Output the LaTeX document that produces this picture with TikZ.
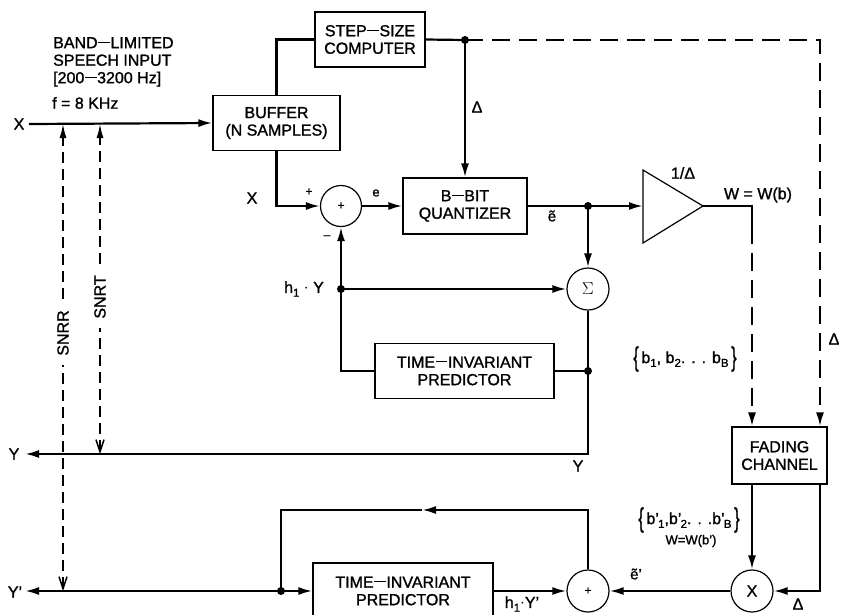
\documentclass[tikz,border=0pt]{standalone}
\usepackage{fontspec}
\setmainfont{Liberation Sans}[FakeBold=1.3]
\usetikzlibrary{arrows.meta}
\newcommand\sbx[1]{\raisebox{-0.45ex}{\fontsize{11.5}{12}\selectfont #1}}
\newcommand\bigbr[1]{\raisebox{-0.35ex}{\scalebox{1}[1.7]{#1}}}
\newcommand\dsh{\kern0.04em\rule[0.33em]{0.72em}{0.075em}\kern0.04em}
\begin{document}
\begin{tikzpicture}[x=1pt,y=-1pt,
  font=\fontsize{16}{17.5}\selectfont,
  box/.style={draw, line width=1.2pt, align=center, inner sep=0pt},
  sumc/.style={draw, circle, line width=1.2pt, minimum size=41pt, inner sep=0pt},
  wire/.style={line width=2.2pt},
  dwire/.style={line width=2.2pt, dash pattern=on 18pt off 9pt},
  snr/.style={line width=1.5pt, dash pattern=on 11pt off 6pt},
  arr/.style={-{Latex[length=14pt,width=8pt]}},
  dotc/.style={circle, fill, inner sep=0pt, minimum size=8pt},
  lab/.style={inner sep=0pt},
  small/.style={inner sep=0pt, font=\fontsize{12}{14}\selectfont}
]
\useasboundingbox (0,0) rectangle (841,614);

% boxes
\node[box, minimum width=110pt, minimum height=55pt] (ssc) at (370,39.5) {STEP\dsh SIZE\\COMPUTER};
\node[box, minimum width=127pt, minimum height=55pt] (buf) at (276.5,123) {BUFFER\\(N SAMPLES)};
\node[box, minimum width=124pt, minimum height=56pt] (quant) at (465,206) {B\dsh BIT\\QUANTIZER};
\node[box, minimum width=179pt, minimum height=55pt] (pred1) at (464.5,371) {TIME\dsh INVARIANT\\PREDICTOR};
\node[box, minimum width=95pt, minimum height=57pt] (fade) at (779.5,455.5) {FADING\\CHANNEL};
\node[box, minimum width=180pt, minimum height=56pt] (pred2) at (403,591) {};
\node[lab, align=center] (pred2t) at (403,591) {TIME\dsh INVARIANT\\PREDICTOR};

% circles
\node[sumc] (sum1) at (341,206) {\fontsize{12}{14}\selectfont +};
\node[sumc, minimum size=42pt] (sigma) at (588,289) {$\Sigma$};
\node[sumc, minimum size=42pt] (plus2) at (588,591) {\fontsize{12}{14}\selectfont +};
\node[sumc, minimum size=42pt] (mult) at (752,591) {X};

% amplifier
\coordinate (a1) at (643,170);
\coordinate (a2) at (643,243);
\coordinate (ampin) at (643,206);
\coordinate (ampout) at (703,206);
\draw[line width=1.2pt, line join=miter] (a1) -- (ampout) -- (a2) -- cycle;

% coordinates
\coordinate (xin) at (29,124);
\coordinate (d1) at (465,40);
\coordinate (tr) at (820,40);
\coordinate (d2) at (588,206);
\coordinate (wout) at (752,206);
\coordinate (wdash) at (752,226);
\coordinate (d4) at (341,289);
\coordinate (d3) at (588,371);
\coordinate (yout) at (25,454);
\coordinate (yp) at (25,591);
\coordinate (d5) at (281,591);
\coordinate (fb) at (422,510);
\coordinate (snrrT) at (63,124);
\coordinate (snrrB) at (63,591);
\coordinate (snrtT) at (100,124);
\coordinate (snrtB) at (100,454);

% top connections
\draw[wire,arr] (xin) -- (buf.west);
\draw[wire] (buf.north) |- (ssc.west);
\draw[wire,arr] (buf.south) |- (sum1.west);
\draw[wire] (ssc.east) -- (d1);
\draw[wire,arr] (d1) -- (quant.north);
\draw[dwire,arr] (d1) -| (fade.north -| tr);
\draw[wire,arr] (sum1.east) -- (quant.west);
\draw[wire] (quant.east) -- (d2);
\draw[wire,arr] (d2) -- (ampin);
\draw[wire,line join=miter] (ampout) -- (wout) -- (wdash);
\draw[dwire,arr] (wdash) -- (fade.north -| wout);
\draw[wire,arr] (d2) -- (sigma.north);
\draw[wire,arr] (sigma.south) |- (yout);
\draw[wire] (pred1.east) -- (d3);
\draw[wire] (pred1.west) -| (d4);
\draw[wire,arr] (d4) -- (sum1.south);
\draw[wire,arr] (d4) -- (sigma.west);

% bottom connections
\draw[wire,arr] (d5) -- (yp);
\draw[wire,arr] (d5) -- (pred2.west);
\draw[wire,arr] (pred2.east) -- (plus2.west);
\draw[wire,arr] (mult.west) -- (plus2.east);
\draw[wire,arr] (fade.south -| mult) -- (mult.north);
\draw[wire,arr] (fade.south -| tr) |- (mult.east);
\draw[wire,arr] (plus2.north) |- (fb);
\draw[wire] (fb) -| (d5);

% SNR lines
\draw[snr, {Straight Barb[length=12pt,width=8pt,line width=1.5pt]}-{Latex[length=14pt,width=7pt]}] (snrrB) -- (snrrT);
\draw[snr, {Straight Barb[length=12pt,width=8pt,line width=1.5pt]}-{Latex[length=14pt,width=7pt]}] (snrtB) -- (snrtT);
\node[rotate=90, fill=white, inner xsep=9pt, inner ysep=3pt] (snrr) at (63,333) {SNRR};
\node[rotate=90, fill=white, inner xsep=9pt, inner ysep=3pt] (snrt) at (100,297) {SNRT};

% dots
\foreach \p in {d1,d2,d3,d4,d5} \node[dotc] at (\p) {};

% labels
\node[lab, align=left, anchor=north west] (title) at (53,37) {BAND\dsh LIMITED\\SPEECH INPUT\\{[}200\dsh 3200 Hz{]}};
\node[lab, anchor=west] (freq) at (52,103) {f = 8 KHz};
\node[lab] (xl) at (19,124) {X};
\node[lab] (xl2) at (252,198) {X};
\node[small] (plusl) at (309,192) {+};
\node[small, font=\fontsize{13}{14}\selectfont] (el) at (376,193) {e};
\node[small] (minusl) at (327,237) {–};
\node[lab] (h1y) at (304,289) {h\sbx{1} $\cdot$ Y};
\node[lab] (dl1) at (477,107) {Δ};
\node[lab, font=\fontsize{15}{16}\selectfont] (etl) at (552,216) {ẽ};
\node[lab] (inv) at (683,173) {1/Δ};
\node[lab] (ww) at (758,195) {W = W(b)};
\node[lab] (bset) at (685,359) {\bigbr{\{}\,b\sbx{1}, b\sbx{2}. . . b\sbx{B}\,\bigbr{\}}};
\node[lab] (dl2) at (834,339) {Δ};
\node[lab] (yl2) at (578,466) {Y};
\node[lab] (yl) at (14,454) {Y};
\node[lab] (ypl) at (15,592) {Y’};
\node[lab] (bpset) at (689,520) {\bigbr{\{}\,b’\kern-0.05em\sbx{1},b’\kern-0.05em\sbx{2}. . .b’\kern-0.05em\sbx{B}\,\bigbr{\}}};
\node[lab, font=\fontsize{13}{15}\selectfont] (wwp) at (691,541) {W=W(b’)};
\node[lab, font=\fontsize{15}{16}\selectfont] (etpl) at (636,574) {ẽ’};
\node[lab] (h1yp) at (522,604) {h\sbx{1}$\cdot$Y’};
\node[lab] (dl3) at (798,604) {Δ};
\end{tikzpicture}
\end{document}
